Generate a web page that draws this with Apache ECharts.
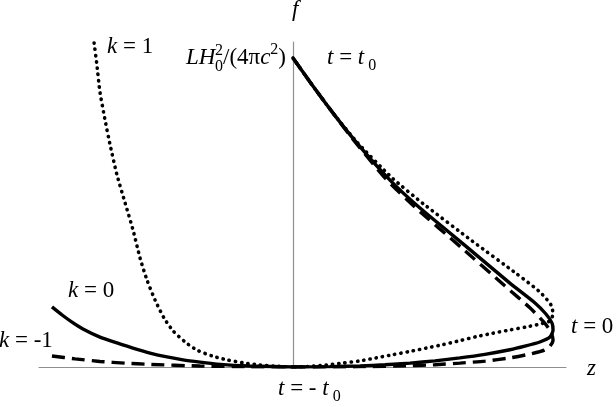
<!DOCTYPE html>
<html>
<head>
<meta charset="utf-8">
<script src="https://cdn.jsdelivr.net/npm/echarts@6/dist/echarts.min.js"></script>
<style>html,body{margin:0;padding:0;background:#fff;}#c{width:616px;height:407px;}</style>
</head>
<body>
<div id="c"></div>
<script>
// k = 1 (dotted), k = 0 (solid), k = -1 (dashed) — left branch f(z), z < 0
const zLeftK1 = [-0.783,-0.772,-0.760,-0.740,-0.720,-0.693,-0.661,-0.630,-0.602,-0.575,-0.543,-0.508,-0.472,-0.425,-0.378,-0.319,-0.260,-0.189,-0.130,-0.059,0];
const fLeftK1 = [0.997,0.929,0.846,0.760,0.683,0.591,0.505,0.422,0.335,0.268,0.206,0.151,0.111,0.077,0.052,0.034,0.022,0.012,0.006,0.002,0];
const zLeftK0 = [-0.949,-0.909,-0.870,-0.827,-0.760,-0.693,-0.630,-0.563,-0.496,-0.433,-0.366,-0.299,-0.169,0];
const fLeftK0 = [0.185,0.160,0.138,0.117,0.092,0.074,0.058,0.043,0.031,0.022,0.015,0.009,0.003,0];
const zLeftKm1 = [-0.949,-0.858,-0.760,-0.661,-0.563,-0.366,-0.169,0];
const fLeftKm1 = [0.034,0.025,0.017,0.012,0.008,0.003,0.001,0];

// right branch: parametric curves from t = t0 (top) through t = 0 (tip) to t = -t0 (origin)
const zRightK0 = [0,0.067,0.157,0.252,0.382,0.500,0.685,0.854,0.953,0.996,1.020,1.024,1.012,0.972,0.913,0.854,0.756,0.657,0.559,0.461,0.362,0.264,0.146,0];
const fRightK0 = [0.951,0.877,0.782,0.689,0.575,0.489,0.369,0.258,0.197,0.163,0.135,0.114,0.092,0.077,0.064,0.053,0.039,0.028,0.019,0.012,0.007,0.0035,0.001,0];
const zRightK1 = [0,0.067,0.157,0.252,0.390,0.520,0.705,0.882,0.972,1.016,1.024,1.012,0.972,0.917,0.854,0.787,0.720,0.657,0.591,0.524,0.461,0.394,0.327,0.264,0.197,0.130,0.067,0];
const fRightK1 = [0.951,0.877,0.782,0.692,0.582,0.498,0.388,0.286,0.231,0.191,0.163,0.142,0.132,0.123,0.114,0.104,0.093,0.081,0.069,0.058,0.048,0.038,0.028,0.019,0.012,0.006,0.002,0];
const zRightKm1 = [0,0.067,0.157,0.232,0.362,0.480,0.665,0.835,0.933,0.988,1.016,1.024,1.012,0.990,0.933,0.854,0.756,0.657,0.559,0.461,0.264,0];
const fRightKm1 = [0.951,0.877,0.782,0.705,0.582,0.492,0.366,0.249,0.182,0.138,0.108,0.083,0.064,0.052,0.040,0.028,0.018,0.012,0.007,0.004,0.001,0];

const zMin = -1, zMax = 1.075, fMin = 0, fMax = 1;

function pairs(zs, fs) { return zs.map((z, i) => [z, fs[i]]); }

const FONT = 'Liberation Serif';
const FS = 23;
const rich = {
  i: { fontFamily: FONT, fontStyle: 'italic', fontSize: FS, lineHeight: 32, fill: '#000' },
  r: { fontFamily: FONT, fontSize: FS, lineHeight: 32, fill: '#000' },
  sub: { fontFamily: FONT, fontSize: 16, lineHeight: 16, verticalAlign: 'bottom', fill: '#000' },
  sup: { fontFamily: FONT, fontSize: 16, lineHeight: 16, verticalAlign: 'top', fill: '#000' }
};
function label(text, x, y, align) {
  return { type: 'text', x: x, y: y, silent: true,
    style: { text: text, rich: rich, align: align || 'left', verticalAlign: 'middle', fill: '#000', fontFamily: FONT, fontSize: FS } };
}

const dotted = { color: '#000', width: 3.6, type: [0.3, 6], cap: 'round' };
const dashed = { color: '#000', width: 3.4, type: [13, 7], cap: 'butt' };
const solid = { color: '#000', width: 3.4, type: 'solid' };

function line(name, data, style) {
  return { name: name, type: 'line', data: data, showSymbol: false, symbol: 'none',
    smooth: 0.2, lineStyle: style, silent: true, animation: false, z: 3 };
}

const chart = echarts.init(document.getElementById('c'), null, { renderer: 'canvas' });
chart.setOption({
  animation: false,
  backgroundColor: '#fff',
  grid: { left: 39, right: 50, top: 42, bottom: 40 },
  xAxis: { type: 'value', min: zMin, max: zMax,
    axisLine: { show: true, onZero: true, lineStyle: { color: '#8f8f8f', width: 1.2 } },
    axisTick: { show: false }, axisLabel: { show: false }, splitLine: { show: false } },
  yAxis: { type: 'value', min: fMin, max: fMax,
    axisLine: { show: true, onZero: true, lineStyle: { color: '#8f8f8f', width: 1.2 } },
    axisTick: { show: false }, axisLabel: { show: false }, splitLine: { show: false } },
  series: [
    line('k=-1 left', pairs(zLeftKm1, fLeftKm1), dashed),
    line('k=1 left', pairs(zLeftK1, fLeftK1), dotted),
    line('k=0 left', pairs(zLeftK0, fLeftK0), solid),
    line('k=-1 right', pairs(zRightKm1, fRightKm1), dashed),
    line('k=1 right', pairs(zRightK1, fRightK1), dotted),
    line('k=0 right', pairs(zRightK0, fRightK0), solid)
  ],
  graphic: [
    label('{i|f}', 292, 10),
    label('{i|z}', 587, 369),
    label('{i|k}{r| = 1}', 107, 47),
    label('{i|k}{r| = 0}', 68, 291),
    label('{i|k}{r| = -1}', -1, 341),
    label('{i|LH}', 186, 58),
    { type: 'text', x: 215, y: 59, silent: true,
      style: { text: '2\n0', fontFamily: FONT, fontSize: 16, lineHeight: 16, align: 'left', verticalAlign: 'middle', fill: '#000' } },
    label('{r|/(4π}{i|c}{sup|2}{r|)}', 223, 58),
    label('{i|t}{r| = }{i|t}{sub| 0}', 327, 58),
    label('{i|t}{r| = 0}', 571, 327),
    label('{i|t}{r| = - }{i|t}{sub| 0}', 278, 389)
  ]
});
</script>
</body>
</html>
